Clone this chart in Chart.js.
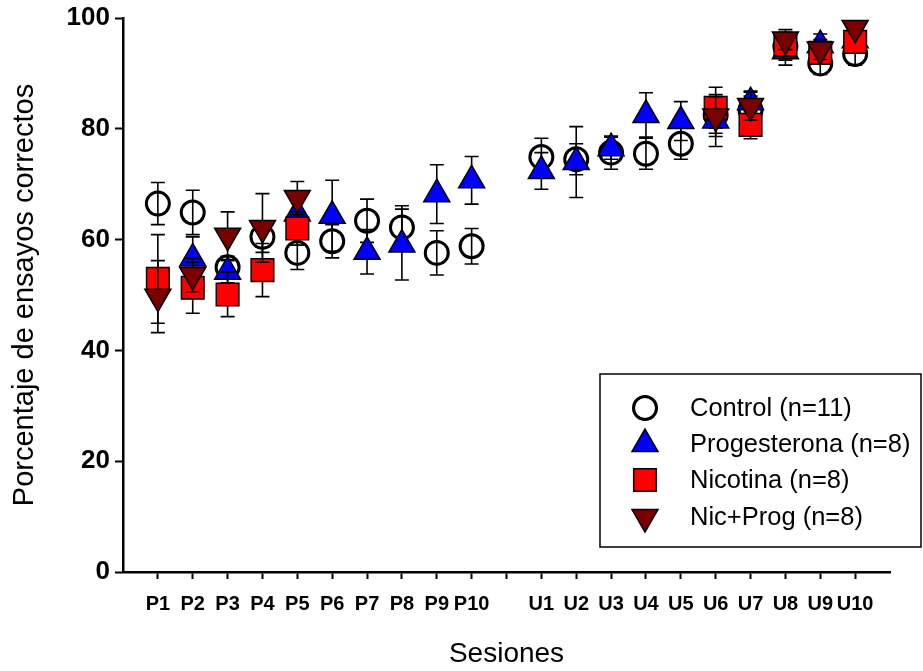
<!DOCTYPE html>
<html>
<head>
<meta charset="utf-8">
<script src="https://cdn.jsdelivr.net/npm/chart.js@4.4.1/dist/chart.umd.min.js"></script>
<style>
  html, body { margin: 0; padding: 0; background: #fff; }
  #wrap { width: 923px; height: 671px; }
</style>
</head>
<body>
<div id="wrap"><canvas id="myChart" width="923" height="671"></canvas></div>
<script>
const sessions = ['P1', 'P2', 'P3', 'P4', 'P5', 'P6', 'P7', 'P8', 'P9', 'P10',
                  'U1', 'U2', 'U3', 'U4', 'U5', 'U6', 'U7', 'U8', 'U9', 'U10'];

// mean % correct and standard error per session
const control     = [66.5, 64.9, 55.0, 60.5, 57.6, 59.7, 63.4, 62.2, 57.6, 58.8,
                     74.9, 74.5, 75.7, 75.5, 77.3, 82.5, 83.4, 94.9, 91.8, 93.5];
const controlErr  = [3.8, 4.0, 2.0, 2.8, 3.0, 3.0, 3.9, 3.9, 4.0, 3.2,
                     3.4, 2.8, 3.0, 2.8, 2.8, 3.3, 2.5, 2.5, 2.0, 2.0];
const progest     = [null, 56.6, 54.2, null, 64.7, 64.3, 57.8, 59.1, 68.2, 70.7,
                     72.4, 74.0, 76.5, 82.5, 81.4, 81.5, 84.8, 94.0, 95.1, 96.0];
const progestErr  = [null, 3.9, 2.0, null, 3.0, 6.4, 4.0, 6.4, 5.3, 4.3,
                     3.3, 6.4, 2.0, 4.0, 3.5, 4.7, 2.0, 2.5, 2.0, 2.0];
const nicotina    = [52.9, 51.3, 50.1, 54.5, 62.0, null, null, null, null, null,
                     null, null, null, null, null, 83.8, 80.7, 95.2, 93.7, 95.7];
const nicotinaErr = [8.0, 4.6, 4.0, 4.8, 3.0, null, null, null, null, null,
                     null, null, null, null, null, 3.7, 2.5, 2.0, 2.0, 2.0];
const nicProg     = [49.7, 53.6, 60.7, 62.1, 67.5, null, null, null, null, null,
                     null, null, null, null, null, 82.2, 84.1, 96.1, 94.3, 98.2];
const nicProgErr  = [6.5, 3.0, 4.3, 6.2, 3.0, null, null, null, null, null,
                     null, null, null, null, null, 3.6, 2.5, 1.8, 1.8, 1.0];

const yTicks = [0, 20, 40, 60, 80, 100];

// P sessions sit at 1..10, U sessions at 12..21 (gap at 11)
const sessionX = sessions.map((s, i) => i < 10 ? i + 1 : i + 2);
const xTickLabels = {};
sessionX.forEach((x, i) => { xTickLabels[x] = sessions[i]; });
const xTickValues = [];
for (let v = 1; v <= 21; v++) xTickValues.push(v);

const FONT = "'Liberation Sans', Arial, Helvetica, sans-serif";

function toPoints(values, errs) {
    const pts = [];
    values.forEach((v, i) => {
        if (v !== null) pts.push({ x: sessionX[i], y: v, err: errs[i] });
    });
    return pts;
}

// vertical error bars, drawn just before each dataset's own markers
const errorBars = {
    id: 'errorBars',
    beforeDatasetDraw(chart, args) {
        const ctx = chart.ctx;
        const ds = chart.data.datasets[args.index];
        const xs = chart.scales.x, ys = chart.scales.y;
        ctx.save();
        ctx.strokeStyle = '#000';
        ctx.lineWidth = 1.6;
        ds.data.forEach(p => {
            if (!p.err) return;
            const px = xs.getPixelForValue(p.x);
            const top = ys.getPixelForValue(p.y + p.err);
            const bot = ys.getPixelForValue(p.y - p.err);
            ctx.beginPath();
            ctx.moveTo(px, top); ctx.lineTo(px, bot);
            ctx.moveTo(px - 7, top); ctx.lineTo(px + 7, top);
            ctx.moveTo(px - 7, bot); ctx.lineTo(px + 7, bot);
            ctx.stroke();
        });
        ctx.restore();
    }
};

// boxed legend in the lower right of the plot
const boxLegend = {
    id: 'boxLegend',
    afterDraw(chart) {
        const ctx = chart.ctx;
        const left = 600, top = 374, width = 321, height = 173;
        ctx.save();
        ctx.strokeStyle = '#000';
        ctx.lineWidth = 1.5;
        ctx.strokeRect(left, top, width, height);
        const rowY = [408, 444, 480, 517];
        chart.data.datasets.forEach((ds, i) => {
            ctx.fillStyle = ds.pointBackgroundColor;
            ctx.strokeStyle = ds.pointBorderColor;
            ctx.lineWidth = ds.pointBorderWidth;
            Chart.helpers.drawPoint(ctx, {
                pointStyle: ds.pointStyle,
                rotation: ds.pointRotation || 0,
                radius: ds.pointRadius,
                borderWidth: ds.pointBorderWidth
            }, 645, rowY[i]);
            ctx.fillStyle = '#000';
            ctx.font = '25.5px ' + FONT;
            ctx.textAlign = 'left';
            ctx.textBaseline = 'middle';
            ctx.fillText(ds.label, 690, rowY[i] + 1);
        });
        ctx.restore();
    }
};

const ctx = document.getElementById('myChart').getContext('2d');
const myChart = new Chart(ctx, {
    type: 'scatter',
    data: {
        datasets: [{
            label: 'Control (n=11)',
            data: toPoints(control, controlErr),
            pointStyle: 'circle',
            pointRadius: 11.5,
            pointBackgroundColor: 'rgba(0,0,0,0)',
            pointBorderColor: '#000',
            pointBorderWidth: 3,
            order: 4
        }, {
            label: 'Progesterona (n=8)',
            data: toPoints(progest, progestErr),
            pointStyle: 'triangle',
            pointRadius: 15,
            pointBackgroundColor: '#0000ff',
            pointBorderColor: '#000',
            pointBorderWidth: 1.5,
            order: 3
        }, {
            label: 'Nicotina (n=8)',
            data: toPoints(nicotina, nicotinaErr),
            pointStyle: 'rect',
            pointRadius: 16,
            pointBackgroundColor: '#ff0000',
            pointBorderColor: '#000',
            pointBorderWidth: 1.5,
            order: 2
        }, {
            label: 'Nic+Prog (n=8)',
            data: toPoints(nicProg, nicProgErr),
            pointStyle: 'triangle',
            pointRotation: 180,
            pointRadius: 15,
            pointBackgroundColor: '#7a0000',
            pointBorderColor: '#000',
            pointBorderWidth: 1.5,
            order: 1
        }]
    },
    options: {
        responsive: false,
        animation: false,
        layout: { padding: { top: 18, right: 33, left: 0, bottom: 0 } },
        plugins: {
            legend: { display: false },
            tooltip: { enabled: false }
        },
        elements: { point: { hoverRadius: 0 } },
        scales: {
            x: {
                type: 'linear',
                min: 0,
                max: 22,
                afterFit(scale) {
                    scale.height = 99;
                    scale.paddingLeft = 0;
                    scale.paddingRight = 0;
                },
                afterBuildTicks(scale) { scale.ticks = xTickValues.map(v => ({ value: v })); },
                border: { color: '#000', width: 2.5 },
                grid: { drawOnChartArea: false, drawTicks: true, tickLength: 7, tickWidth: 2, color: '#000' },
                ticks: {
                    color: '#000',
                    padding: 13,
                    maxRotation: 0,
                    autoSkip: false,
                    font: { family: FONT, size: 20, weight: 'bold' },
                    callback: v => xTickLabels[v] || ''
                },
                title: {
                    display: true,
                    text: 'Sesiones',
                    color: '#000',
                    padding: { top: 0, bottom: 0 },
                    font: { family: FONT, size: 28 }
                }
            },
            y: {
                min: 0,
                max: 100,
                afterFit(scale) {
                    scale.width = 123;
                    scale.paddingTop = 0;
                    scale.paddingBottom = 0;
                },
                afterBuildTicks(scale) { scale.ticks = yTicks.map(v => ({ value: v })); },
                border: { color: '#000', width: 2.5 },
                grid: { drawOnChartArea: false, drawTicks: true, tickLength: 8, tickWidth: 2, color: '#000' },
                ticks: {
                    color: '#000',
                    padding: 5,
                    font: { family: FONT, size: 26, weight: 'bold' }
                },
                title: {
                    display: true,
                    text: 'Porcentaje de ensayos correctos',
                    color: '#000',
                    padding: { top: 8, bottom: 0 },
                    font: { family: FONT, size: 29 }
                }
            }
        }
    },
    plugins: [errorBars, boxLegend]
});
</script>
</body>
</html>
